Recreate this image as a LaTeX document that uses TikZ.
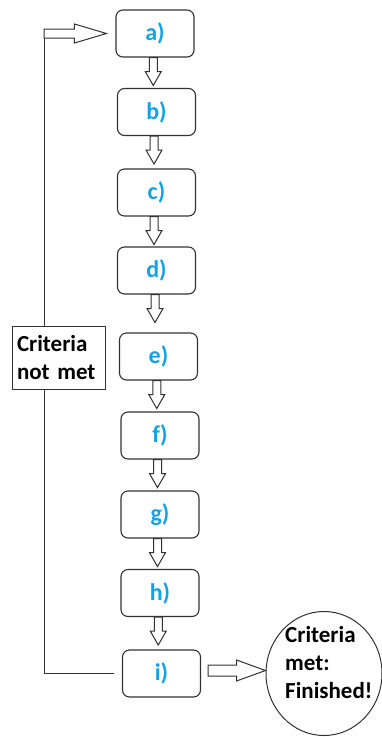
\documentclass[tikz,border=0pt]{standalone}
\usepackage{fontspec}
\setmainfont{Carlito}
\usetikzlibrary{calc,shapes.geometric}
\definecolor{stepblue}{RGB}{20,162,230}
\definecolor{edgegray}{RGB}{50,50,50}

% hollow block arrow pointing down from one step box towards the next
\newcommand\stepflow[2]{%
  \draw[blockline] let \p1=($(#1.south)!0.5!(#2.north)$), \p2=(#1.south) in
    (\x1-6.5pt,\y2) -- (\x1-6.5pt,\y2-14pt) -- (\x1-10.5pt,\y2-14pt)
    -- (\x1-2.5pt,\y2-28pt) -- (\x1+5.5pt,\y2-14pt) -- (\x1+1.5pt,\y2-14pt)
    -- (\x1+1.5pt,\y2) -- cycle;}

\begin{document}
\begin{tikzpicture}[x=1pt,y=-1pt,
  stepbox/.style={draw=edgegray, line width=1.1pt, rounded corners=7pt,
    minimum width=78pt, minimum height=47pt, inner sep=0pt,
    font=\fontsize{24}{28}\selectfont\bfseries, text=stepblue},
  blockline/.style={draw=edgegray, line width=1pt, fill=white, line join=miter},
  loopline/.style={draw=edgegray, line width=1pt},
  notebox/.style={draw=edgegray, line width=1pt, fill=white,
    minimum width=93pt, minimum height=63pt, text width=83pt,
    inner xsep=5pt, inner ysep=0pt, align=left,
    font=\fontsize{23}{28}\selectfont\bfseries},
  notetext/.style={align=left, inner sep=0pt,
    font=\fontsize{23}{28}\selectfont\bfseries}]
\useasboundingbox (0,0) rectangle (382,737);

% the nine steps
\node[stepbox] (a) at (155,33.5) {a)};
\node[stepbox] (b) at (156.5,112) {b)};
\node[stepbox] (c) at (156.5,192.5) {c)};
\node[stepbox] (d) at (156.5,270.5) {d)};
\node[stepbox] (e) at (158.5,356.5) {e)};
\node[stepbox] (f) at (160,435.5) {f)};
\node[stepbox] (g) at (160,514.5) {g)};
\node[stepbox] (h) at (160,593) {h)};
\node[stepbox] (i) at (161.5,673.5) {i)};

% flow between consecutive steps
\stepflow{a}{b}
\stepflow{b}{c}
\stepflow{c}{d}
\stepflow{d}{e}
\stepflow{e}{f}
\stepflow{f}{g}
\stepflow{g}{h}
\stepflow{h}{i}

% feedback loop back to the first step
\coordinate (looptop) at (44,38);
\draw[loopline] ([xshift=-8pt]i.west) -| (looptop);
\node[notebox] (notmet) at (58.5,357.5) {Criteria\\not met};
\draw[blockline] let \p1=(looptop), \p2=(a.west) in
  (\x1,\y2+4.5pt) -- (\x2-41pt,\y2+4.5pt) -- (\x2-41pt,\y2+9.5pt)
  -- (\x2-9pt,\y2) -- (\x2-41pt,\y2-9.5pt) -- (\x2-41pt,\y2-4.5pt)
  -- (\x1,\y2-4.5pt) -- cycle;

% termination
\node[draw=edgegray, line width=1pt, ellipse, minimum width=116pt,
  minimum height=124pt, inner sep=0pt] (done) at (324,673.5) {};
\node[notetext, anchor=north west] (donetext) at (285,626)
  {Criteria\\met:\\Finished!};
\draw[blockline] let \p1=(i.east), \p2=(done.west) in
  (\x1+7pt,\y1+8.5pt) -- (\x2-29pt,\y1+8.5pt) -- (\x2-29pt,\y1+13.5pt)
  -- (\x2,\y1+3pt) -- (\x2-29pt,\y1-7.5pt) -- (\x2-29pt,\y1-2.5pt)
  -- (\x1+7pt,\y1-2.5pt) -- cycle;
\end{tikzpicture}
\end{document}
